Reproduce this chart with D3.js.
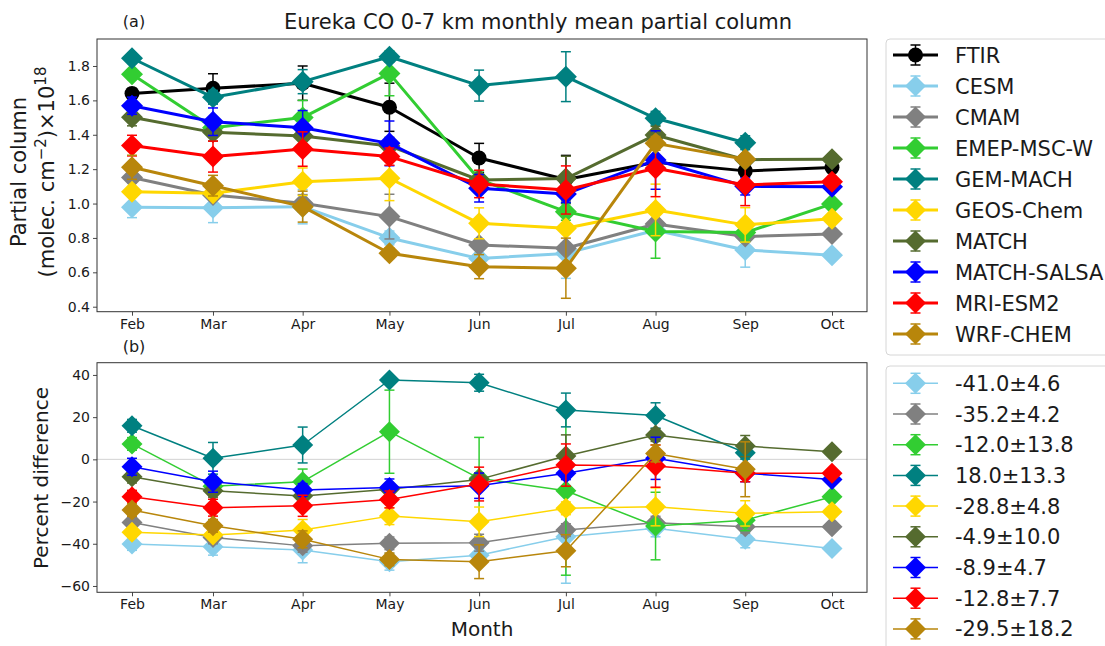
<!DOCTYPE html>
<html><head><meta charset="utf-8">
<script src="https://cdn.jsdelivr.net/npm/d3@7"></script>
<style>
body{margin:0;background:#fff}
text{font-family:"DejaVu Sans",sans-serif;fill:#1a1a1a}
</style></head>
<body><svg id="c" width="1105" height="646"></svg>
<script>
// ---------------- data ----------------
const months = ["Feb","Mar","Apr","May","Jun","Jul","Aug","Sep","Oct"];
const monthNumbers = [2,3,4,5,6,7,8,9,10];
const yTopTicks = [0.4,0.6,0.8,1.0,1.2,1.4,1.6,1.8];
const yBotTicks = [-60,-40,-20,0,20,40];

const FTIR_col = [1.64,1.67,1.70,1.56,1.265,1.14,1.24,1.19,1.21];
const FTIR_err = [0.03,0.085,0.10,0.14,0.085,0.14,0.03,0.03,0.03];

const modelNames = ["CESM","CMAM","EMEP-MSC-W","GEM-MACH","GEOS-Chem","MATCH","MATCH-SALSA","MRI-ESM2","WRF-CHEM"];
const pctStats = ["-41.0±4.6","-35.2±4.2","-12.0±13.8","18.0±13.3","-28.8±4.8","-4.9±10.0","-8.9±4.7","-12.8±7.7","-29.5±18.2"];

const CESM_col = [0.978,0.976,0.982,0.80,0.68,0.71,0.845,0.73,0.70];
const CESM_err = [0.06,0.087,0.10,0.04,0.03,0.145,0.03,0.10,0.02];
const CESM_pct = [-40.1,-41.4,-43.0,-48.5,-45.4,-36.7,-32.7,-37.9,-42.2];
const CESM_pctErr = [3,4,6,4,3,22,4,4,2];

const CMAM_col = [1.151,1.05,1.002,0.924,0.759,0.74,0.881,0.808,0.823];
const CMAM_err = [0.03,0.03,0.05,0.13,0.03,0.03,0.03,0.03,0.02];
const CMAM_pct = [-29.9,-37.0,-41.0,-39.8,-39.5,-33.5,-30.0,-31.9,-31.9];
const CMAM_pctErr = [3,3,3,3,4,3,3,3,2];

const EMEP_col = [1.752,1.441,1.50,1.757,1.14,0.953,0.837,0.831,0.998];
const EMEP_err = [0.03,0.05,0.10,0.13,0.05,0.05,0.155,0.05,0.02];
const EMEP_pct = [7.3,-12.7,-10.6,13.1,-9.0,-14.9,-31.6,-28.8,-17.7];
const EMEP_pctErr = [3,3,6,19.7,19.4,40,16,5,2];

const GEM_col = [1.845,1.618,1.709,1.854,1.686,1.738,1.496,1.354,null];
const GEM_err = [0.03,0.04,0.07,0.03,0.09,0.145,0.04,0.04,null];
const GEM_pct = [15.9,0.5,6.8,37.6,36.3,23.4,20.8,3.1,null];
const GEM_pctErr = [3,7.5,8.5,2,4,8,6,3,null];

const GEOS_col = [1.069,1.06,1.127,1.147,0.885,0.856,0.963,0.876,0.911];
const GEOS_err = [0.03,0.03,0.08,0.13,0.09,0.03,0.15,0.10,0.02];
const GEOS_pct = [-34.6,-35.9,-33.5,-26.9,-29.6,-23.2,-22.5,-25.6,-24.8];
const GEOS_pctErr = [2,2,5,4,7,3,9,6,2];

const MATCH_col = [1.502,1.414,1.393,1.335,1.137,1.145,1.399,1.255,1.258];
const MATCH_err = [0.05,0.05,0.05,0.05,0.03,0.13,0.05,0.03,0.03];
const MATCH_pct = [-8.2,-14.9,-17.4,-14.2,-9.5,1.6,11.5,6.3,3.6];
const MATCH_pctErr = [3,3,3,2,3,10,3,5,2];

const SALSA_col = [1.569,1.476,1.441,1.35,1.089,1.056,1.253,1.10,1.098];
const SALSA_err = [0.05,0.08,0.10,0.13,0.08,0.05,0.17,0.05,0.03];
const SALSA_pct = [-3.5,-10.6,-14.5,-13.3,-12.5,-6.6,0.5,-6.6,-9.5];
const SALSA_pctErr = [4,5,3,4,6,3,10,4,2];

const MRI_col = [1.337,1.273,1.317,1.273,1.114,1.079,1.205,1.108,1.127];
const MRI_err = [0.06,0.09,0.10,0.05,0.08,0.14,0.165,0.12,0.03];
const MRI_pct = [-17.7,-22.9,-22.0,-19.0,-11.7,-2.7,-3.2,-6.6,-6.6];
const MRI_pctErr = [3,4,5,4,8,10,10,4,2];

const WRF_col = [1.211,1.104,0.982,0.711,0.633,0.624,1.35,1.258,null];
const WRF_err = [0.07,0.06,0.09,0.03,0.07,0.175,0.04,0.03,null];
const WRF_pct = [-24.0,-31.5,-37.9,-47.4,-48.5,-43.3,2.8,-4.7,null];
const WRF_pctErr = [3,3,4,3,8,7.6,4,13,null];

// ---------------- styles ----------------
const modelColors = ["#87CEEB","#808080","#32CD32","#008080","#FFD700","#556B2F","#0000FF","#FF0000","#B8860B"];

const colTable = [CESM_col,CMAM_col,EMEP_col,GEM_col,GEOS_col,MATCH_col,SALSA_col,MRI_col,WRF_col];
const errTable = [CESM_err,CMAM_err,EMEP_err,GEM_err,GEOS_err,MATCH_err,SALSA_err,MRI_err,WRF_err];
const pctTable = [CESM_pct,CMAM_pct,EMEP_pct,GEM_pct,GEOS_pct,MATCH_pct,SALSA_pct,MRI_pct,WRF_pct];
const pctErrTable = [CESM_pctErr,CMAM_pctErr,EMEP_pctErr,GEM_pctErr,GEOS_pctErr,MATCH_pctErr,SALSA_pctErr,MRI_pctErr,WRF_pctErr];

const svg = d3.select("#c");
const dates = monthNumbers.map(m => new Date(2001, m-1, 1));
const span = dates[dates.length-1] - dates[0];
const x = d3.scaleTime()
  .domain([new Date(+dates[0] - 0.05*span), new Date(+dates[dates.length-1] + 0.05*span)])
  .range([97, 867]);
const yTop = d3.scaleLinear().domain([0.371, 1.957]).range([311.7, 39]);
const yBot = d3.scaleLinear().domain([-63.0, 45.8]).range([592.3, 362.7]);

function diamond(r){ return `M0,${-r}L${r},0L0,${r}L${-r},0Z`; }

function drawAxes(y, ticks, fmt, top, bottom){
  const gx = svg.append("g").attr("transform",`translate(0,${bottom})`)
    .call(d3.axisBottom(x).tickValues(dates).tickFormat((d,i)=>months[i]).tickSize(4).tickPadding(3));
  gx.select(".domain").remove();
  gx.selectAll("line").attr("stroke","#333").attr("stroke-width",0.9);
  gx.selectAll("text").attr("font-size",14).attr("fill","#1a1a1a").style("font-family","DejaVu Sans");
  const gy = svg.append("g").attr("transform",`translate(97,0)`)
    .call(d3.axisLeft(y).tickValues(ticks).tickFormat(fmt).tickSize(4).tickPadding(3));
  gy.select(".domain").remove();
  gy.selectAll("line").attr("stroke","#333").attr("stroke-width",0.9);
  gy.selectAll("text").attr("font-size",14).attr("fill","#1a1a1a").style("font-family","DejaVu Sans");
}

function drawSeries(g, y, vals, errs, color, lw, marker, ms){
  const pts = vals.map((v,i)=>({d:dates[i], v, e:errs[i]})).filter(p=>p.v!=null);
  const eg = g.append("g").attr("stroke",color).attr("stroke-width",1.5);
  pts.forEach(p=>{
    const cx = x(p.d), y1 = y(p.v - p.e), y2 = y(p.v + p.e);
    eg.append("line").attr("x1",cx).attr("x2",cx).attr("y1",y1).attr("y2",y2);
    eg.append("line").attr("x1",cx-5).attr("x2",cx+5).attr("y1",y1).attr("y2",y1);
    eg.append("line").attr("x1",cx-5).attr("x2",cx+5).attr("y1",y2).attr("y2",y2);
  });
  g.append("path").datum(pts)
    .attr("d", d3.line().x(p=>x(p.d)).y(p=>y(p.v)))
    .attr("fill","none").attr("stroke",color).attr("stroke-width",lw).attr("stroke-linejoin","round");
  pts.forEach(p=>{
    if(marker==="o") g.append("circle").attr("cx",x(p.d)).attr("cy",y(p.v)).attr("r",ms).attr("fill",color);
    else g.append("path").attr("d",diamond(ms)).attr("transform",`translate(${x(p.d)},${y(p.v)})`).attr("fill",color);
  });
}

// ---------- top panel ----------
drawAxes(yTop, yTopTicks, d3.format(".1f"), 39, 311.7);
const gTop = svg.append("g");
drawSeries(gTop, yTop, FTIR_col, FTIR_err, "#000", 3, "o", 7.5);
modelNames.forEach((n,k)=> drawSeries(gTop, yTop, colTable[k], errTable[k], modelColors[k], 3, "D", 11));
svg.append("rect").attr("x",97).attr("y",39).attr("width",770).attr("height",272.7)
  .attr("fill","none").attr("stroke","#333").attr("stroke-width",1);

// ---------- bottom panel ----------
drawAxes(yBot, yBotTicks, d=> d<0 ? "\u2212"+Math.abs(d) : String(d), 362.7, 592.3);
svg.append("line").attr("x1",97).attr("x2",867).attr("y1",yBot(0)).attr("y2",yBot(0))
  .attr("stroke","#d3d3d3").attr("stroke-width",1);
const gBot = svg.append("g");
modelNames.forEach((n,k)=> drawSeries(gBot, yBot, pctTable[k], pctErrTable[k], modelColors[k], 1.5, "D", 10.5));
svg.append("rect").attr("x",97).attr("y",362.7).attr("width",770).attr("height",229.6)
  .attr("fill","none").attr("stroke","#333").attr("stroke-width",1);

// ---------- texts ----------
svg.append("text").attr("x",134).attr("y",27).attr("font-size",16).attr("text-anchor","middle").text("(a)");
svg.append("text").attr("x",134).attr("y",352).attr("font-size",16).attr("text-anchor","middle").text("(b)");
svg.append("text").attr("x",538).attr("y",29).attr("font-size",21).attr("text-anchor","middle")
  .text("Eureka CO 0-7 km monthly mean partial column");
svg.append("text").attr("transform","translate(26,172) rotate(-90)").attr("font-size",21).attr("text-anchor","middle")
  .text("Partial column");
const yl2 = svg.append("text").attr("transform","translate(54,172) rotate(-90)").attr("font-size",21).attr("text-anchor","middle");
yl2.append("tspan").text("(molec. cm");
yl2.append("tspan").attr("dy",-8).attr("font-size",15).text("\u22122");
yl2.append("tspan").attr("dy",8).text(")\u00d710");
yl2.append("tspan").attr("dy",-8).attr("font-size",15).text("18");
svg.append("text").attr("transform","translate(48,478) rotate(-90)").attr("font-size",20).attr("text-anchor","middle")
  .text("Percent difference");
svg.append("text").attr("x",482).attr("y",636).attr("font-size",20).attr("text-anchor","middle").text("Month");

// ---------- legends ----------
function legendBox(y0, h){
  svg.append("rect").attr("x",886).attr("y",y0).attr("width",240).attr("height",h).attr("rx",4)
    .attr("fill","#fff").attr("fill-opacity",0.8).attr("stroke","#d6d6d6").attr("stroke-width",1);
}
function legendEntry(yc, color, lw, marker, label){
  const g = svg.append("g");
  g.append("line").attr("x1",893).attr("x2",938).attr("y1",yc).attr("y2",yc).attr("stroke",color).attr("stroke-width",lw);
  g.append("line").attr("x1",915.5).attr("x2",915.5).attr("y1",yc-10).attr("y2",yc+10).attr("stroke",color).attr("stroke-width",1.5);
  [yc-10,yc+10].forEach(yy=> g.append("line").attr("x1",910.5).attr("x2",920.5).attr("y1",yy).attr("y2",yy).attr("stroke",color).attr("stroke-width",1.5));
  if(marker==="o") g.append("circle").attr("cx",915.5).attr("cy",yc).attr("r",7.5).attr("fill",color);
  else g.append("path").attr("d",diamond(10.5)).attr("transform",`translate(915.5,${yc})`).attr("fill",color);
  g.append("text").attr("x",955).attr("y",yc).attr("dy","0.36em").attr("font-size",21).text(label);
}
legendBox(39, 316);
legendEntry(55, "#000", 3, "o", "FTIR");
modelNames.forEach((n,k)=> legendEntry(55 + (k+1)*31, modelColors[k], 3, "D", n));
legendBox(366, 300);
pctStats.forEach((s,k)=> legendEntry(383.3 + k*30.7, modelColors[k], 1.5, "D", s));
</script>
</body></html>
